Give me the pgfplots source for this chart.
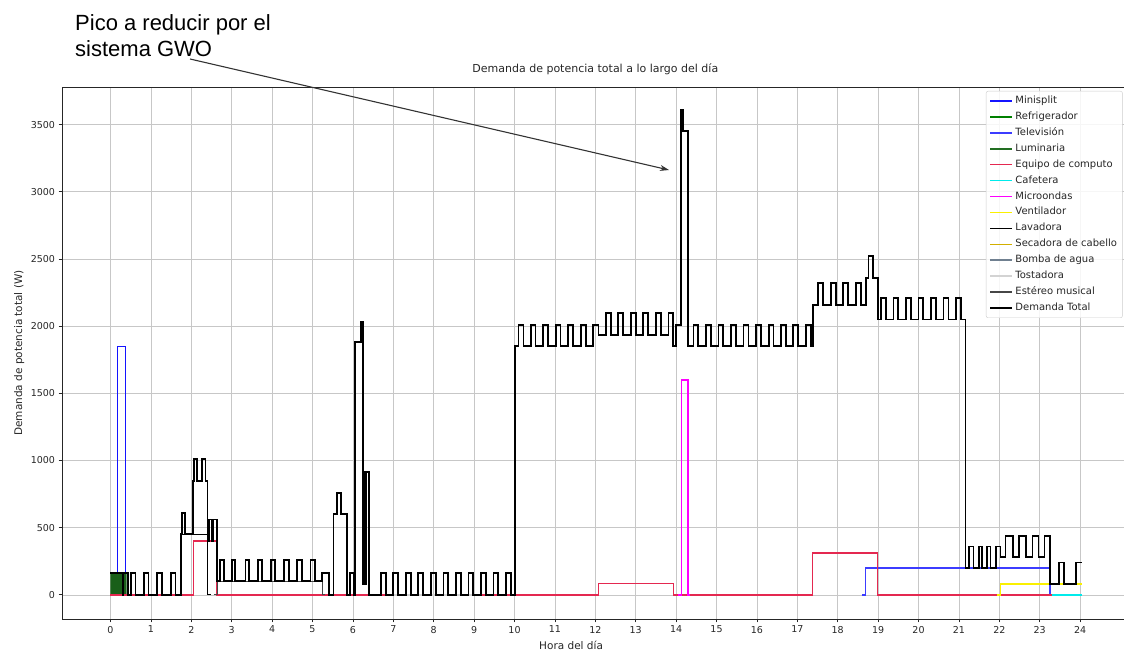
\documentclass[border=0pt]{standalone}
\usepackage{pgfplots}
\pgfplotsset{compat=1.18}
\usepackage{fontspec}
\setmainfont{DejaVu Sans}
\newfontfamily\arialfont{Liberation Sans}
\usetikzlibrary{arrows.meta}
\definecolor{cMini}{RGB}{20,20,255}
\definecolor{cRefri}{RGB}{0,128,0}
\definecolor{cRefriFill}{RGB}{25,95,25}
\definecolor{cTV}{RGB}{60,60,255}
\definecolor{cLum}{RGB}{34,110,34}
\definecolor{cEq}{RGB}{228,40,80}
\definecolor{cCaf}{RGB}{0,235,235}
\definecolor{cMic}{RGB}{255,0,255}
\definecolor{cVen}{RGB}{250,240,0}
\definecolor{cLav}{RGB}{0,0,0}
\definecolor{cSec}{RGB}{210,175,0}
\definecolor{cBom}{RGB}{112,128,144}
\definecolor{cTos}{RGB}{211,211,211}
\definecolor{cEst}{RGB}{70,70,70}
\begin{document}
\begin{tikzpicture}
\begin{axis}[
  at={(62pt,36pt)}, anchor=south west,
  scale only axis, width=1066.6pt, height=532pt,
  xmin=-1.2, xmax=25.2, ymin=-180, ymax=3780,
  xtick={0,1,...,24}, ytick={0,500,...,3500},
  xmajorgrids, ymajorgrids,
  grid style={draw=black!22, line width=0.6pt},
  axis line style={line width=0.7pt, black!85},
  tick align=outside, tick pos=left,
  major tick length=3.5pt,
  every tick/.style={black!85, line width=0.7pt},
  ticklabel style={font=\fontsize{9.5}{11}\selectfont, text=black!85},
  /pgf/number format/assume math mode=true,
  /pgf/number format/1000 sep={},
  title={Demanda de potencia total a lo largo del día},
  title style={at={(rel axis cs:0.5,1)}, anchor=base, yshift=8pt, font=\fontsize{11}{13}\selectfont, text=black!85},
  xlabel={Hora del día},
  xlabel style={at={(axis description cs:0.4773,0)}, anchor=base, yshift=-31pt, font=\fontsize{10.5}{12}\selectfont, text=black!85},
  ylabel={Demanda de potencia total (W)},
  ylabel style={at={([xshift=-40pt]axis description cs:0,0.5)}, rotate=0, anchor=base, font=\fontsize{10.5}{12}\selectfont, text=black!85},
  legend style={at={(rel axis cs:1,1)}, anchor=north east, xshift=-6pt, yshift=-4pt,
    draw=black!20, fill=white, fill opacity=0.85, text opacity=1, rounded corners=2pt,
    font=\fontsize{10}{11}\selectfont, text=black!85,
    nodes={text height=7.5pt, text depth=2.4pt, inner ysep=3pt, inner xsep=2.5pt}},
  legend cell align=left,
  legend image code/.code={\draw[#1] (0pt,0pt) -- (22pt,0pt);},
]
% Minisplit
\addplot[const plot, cMini, line width=1.4pt] coordinates {(0.10,0)(0.18,1850)(0.37,0)(0.42,0)};
\addlegendentry{Minisplit}
% Refrigerador
\addplot[const plot, cRefri, line width=1.4pt] coordinates {(7.0,0)(9.0,0)};
\addlegendentry{Refrigerador}
\addplot[draw=none, fill=cRefriFill, forget plot] coordinates {(0,0)(0,160)(0.40,160)(0.40,0)} \closedcycle;
% Television
\addplot[const plot, cTV, line width=1.4pt] coordinates {(18.60,0)(18.69,200)(23.25,0)(23.30,0)};
\addlegendentry{Televisión}
% Luminaria
\addplot[const plot, cLum, line width=1.4pt] coordinates {(7.0,0)(9.0,0)};
\addlegendentry{Luminaria}
% Equipo de computo
\addplot[const plot, cEq, line width=1.4pt] coordinates {(0,0)(2.05,400)(2.64,0)(12.08,85)(13.93,0)(17.38,310)(18.99,0)(23.40,0)};
\addlegendentry{Equipo de computo}
% Cafetera
\addplot[const plot, cCaf, line width=1.4pt] coordinates {(23.30,0)(24.05,0)};
\addlegendentry{Cafetera}
% Microondas
\addplot[const plot, cMic, line width=1.4pt] coordinates {(14.05,0)(14.13,1600)(14.29,0)(14.35,0)};
\addlegendentry{Microondas}
% Ventilador
\addplot[const plot, cVen, line width=1.4pt] coordinates {(21.95,0)(22.03,80)(24.05,80)};
\addlegendentry{Ventilador}
% Lavadora
\addplot[const plot, cLav, line width=0.9pt] coordinates {(1.65,0)(1.75,450)(2.40,0)(2.50,0)};
\addlegendentry{Lavadora}
% Secadora de cabello
\addplot[const plot, cSec, line width=1.4pt] coordinates {(7.0,0)(9.0,0)};
\addlegendentry{Secadora de cabello}
% Bomba de agua
\addplot[const plot, cBom, line width=1.4pt] coordinates {(7.0,0)(9.0,0)};
\addlegendentry{Bomba de agua}
% Tostadora
\addplot[const plot, cTos, line width=1.4pt] coordinates {(7.0,0)(9.0,0)};
\addlegendentry{Tostadora}
% Estereo musical
\addplot[const plot, cEst, line width=1.2pt] coordinates {(2.55,0)(2.64,100)(5.24,0)(5.30,0)};
\addlegendentry{Estéreo musical}
% Demanda total
\addplot[const plot, black, line width=1.8pt] coordinates {
(0,160)(0.30,0)(0.32,160)(0.44,0)
(0.50,160)(0.62,0)(0.82,160)(0.94,0)(1.16,160)(1.28,0)(1.49,160)(1.61,0)
(1.75,450)(1.77,610)(1.84,450)(2.05,850)(2.07,1010)(2.14,850)(2.27,1010)(2.35,850)
(2.40,400)(2.44,560)(2.52,400)(2.55,560)(2.64,100)
(2.72,260)(2.80,100)(3.01,260)(3.09,100)(3.34,260)(3.42,100)(3.66,260)(3.76,100)
(3.98,260)(4.08,100)(4.29,260)(4.41,100)(4.62,260)(4.74,100)(4.95,260)(5.07,100)
(5.24,160)(5.40,0)(5.52,600)(5.61,760)(5.71,600)(5.86,0)(5.92,160)(6.02,0)
(6.05,1880)(6.20,2035)(6.25,80)(6.27,915)(6.285,80)(6.295,915)(6.305,80)(6.315,915)(6.39,0)
(6.69,160)(6.81,0)(7.00,160)(7.12,0)(7.31,160)(7.43,0)(7.62,160)(7.74,0)(7.93,160)(8.05,0)
(8.24,160)(8.36,0)(8.55,160)(8.67,0)(8.86,160)(8.98,0)(9.17,160)(9.29,0)(9.48,160)(9.60,0)
(9.79,160)(9.91,0)
(10.02,1850)(10.10,2010)(10.22,1850)(10.40,2010)(10.52,1850)(10.71,2010)(10.83,1850)
(11.02,2010)(11.14,1850)(11.33,2010)(11.45,1850)(11.64,2010)(11.76,1850)(11.95,2010)
(12.08,1935)(12.26,2095)(12.38,1935)(12.57,2095)(12.69,1935)(12.88,2095)(13.00,1935)
(13.19,2095)(13.31,1935)(13.50,2095)(13.62,1935)(13.81,2095)(13.93,1850)
(13.99,2010)(14.13,3610)(14.18,3450)(14.29,1850)
(14.43,2010)(14.55,1850)(14.74,2010)(14.86,1850)(15.05,2010)(15.17,1850)(15.36,2010)(15.48,1850)
(15.67,2010)(15.79,1850)(15.98,2010)(16.10,1850)(16.29,2010)(16.41,1850)(16.59,2010)(16.71,1850)
(16.90,2010)(17.02,1850)(17.21,2010)(17.33,1850)
(17.38,2160)(17.52,2320)(17.64,2160)(17.83,2320)(17.95,2160)(18.14,2320)(18.26,2160)
(18.45,2320)(18.57,2160)(18.69,2360)(18.76,2520)(18.88,2360)
(18.99,2050)(19.07,2210)(19.19,2050)(19.38,2210)(19.50,2050)(19.69,2210)(19.81,2050)
(20.00,2210)(20.12,2050)(20.31,2210)(20.43,2050)(20.62,2210)(20.74,2050)(20.93,2210)(21.05,2050)
(21.16,200)(21.24,360)(21.36,200)(21.49,360)(21.58,200)(21.70,360)(21.78,200)(21.92,360)
(22.03,280)(22.15,440)(22.33,280)(22.48,440)(22.65,280)(22.82,440)(22.97,280)(23.12,440)
(23.25,80)(23.47,240)(23.61,80)(23.89,240)(24.05,240)
};
\addlegendentry{Demanda Total}
\end{axis}
\node[anchor=base west, inner sep=0pt, font=\arialfont\fontsize{22}{26}\selectfont] at (75pt,624pt) {Pico a reducir por el};
\node[anchor=base west, inner sep=0pt, font=\arialfont\fontsize{22}{26}\selectfont] at (75pt,598pt) {sistema GWO};
\draw[-{Stealth[length=9pt,width=6pt]}, line width=1.1pt, black!80] (190pt,596pt) -- (669pt,485pt);
\pgfresetboundingbox
\useasboundingbox (0pt,0pt) rectangle (1124pt,655pt);
\end{tikzpicture}
\end{document}
